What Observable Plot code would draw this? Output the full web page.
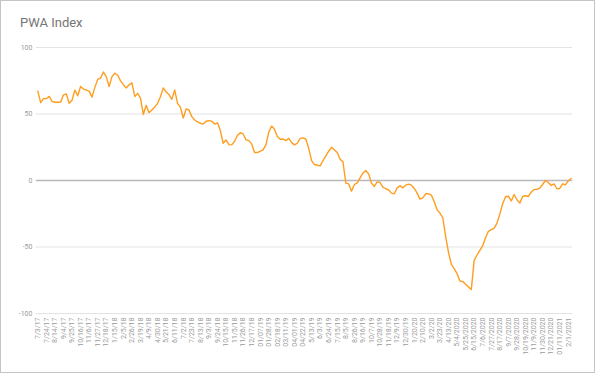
<!DOCTYPE html>
<html>
<head>
<meta charset="utf-8">
<script src="https://cdn.jsdelivr.net/npm/d3@7"></script>
<script src="https://cdn.jsdelivr.net/npm/@observablehq/plot@0.6"></script>
<style>
  html, body { margin: 0; padding: 0; background: #fff; }
  #frame { position: relative; width: 595px; height: 373px; box-sizing: border-box; border: 1px solid #c4c4c4; overflow: hidden; font-family: Roboto, sans-serif; }
  #title { position: absolute; left: 19px; top: 14px; font-size: 13px; color: #757575; }
  #chart { position: absolute; left: -1px; top: 33px; }
</style>
</head>
<body>
<div id="frame">
  <div id="title">PWA Index</div>
  <div id="chart"></div>
</div>
<script>
const title = "PWA Index";

// x tick labels (every 3rd weekly point)
const tickLabels = ["7/3/17","7/24/17","8/14/17","9/4/17","9/25/17","10/16/17","11/6/17","11/27/17","12/18/17","1/15/18",
"2/5/18","2/26/18","3/19/18","4/9/18","4/30/18","5/21/18","6/11/18","7/2/18","7/23/18","8/13/18",
"9/3/18","9/24/18","10/15/18","11/5/18","11/26/18","12/17/18","01/07/19","01/28/19","02/18/19","03/11/19",
"04/01/19","04/22/19","5/13/19","6/3/19","6/24/19","7/15/19","8/5/19","8/26/19","9/16/19","10/7/19",
"10/28/19","11/18/19","12/9/19","12/30/19","1/20/20","2/10/20","3/2/20","3/23/20","4/13/20","5/4/2020",
"5/25/2020","6/15/2020","7/6/2020","7/27/2020","8/17/2020","9/7/2020","9/28/2020","10/19/2020","11/9/2020","11/30/2020",
"12/21/2020","01/11/2021","2/1/2021"];

// weekly index values
const values = [
67.2, 58.5, 61.5, 61.5, 63.2, 59.5, 58.8, 58.8, 58.8, 64.4,
65, 58, 60.3, 67.9, 63.7, 70.7, 68.7, 68, 67.2, 62.7,
70, 76, 76.9, 81.5, 78.1, 70.7, 78.1, 80.6, 79.3, 74.9,
72, 69.6, 71.9, 73.4, 63.2, 65.5, 62, 49.6, 56.5, 51,
53, 55.3, 58, 63, 69.6, 66.5, 64.5, 61, 68, 58,
55, 47, 53.8, 53, 48, 45.5, 44.1, 43, 42.4, 44.5,
45, 44.6, 42.4, 43.4, 37.5, 28, 30.5, 27, 26.8, 29.5,
34, 35.9, 35, 30.5, 30, 27.5, 21, 21, 22, 23,
27, 36.5, 41, 38.4, 33, 31, 31.2, 30, 31.7, 28.5,
26.8, 28, 31.7, 32, 31, 24, 15, 12, 11.5, 11,
15, 18.5, 22, 25, 23, 21, 16, 14, -2, -2.5,
-8, -3, -1.8, 2, 5.5, 7.5, 5, -2, -4.5, -1,
-1.5, -5, -6.2, -7, -9.5, -10, -5.5, -4, -5.5, -3.5,
-2.7, -3.5, -6, -9.5, -14, -13, -10, -10, -11, -16,
-22, -24.5, -28, -42, -54, -63, -66.2, -70, -75.5, -76,
-78, -80, -82, -60, -56, -52.5, -49, -43, -38.2, -37,
-36, -32, -25.3, -17.5, -12.2, -11.8, -15.4, -10.5, -14.5, -17,
-12, -11.5, -12, -8.8, -6.7, -6.7, -5.7, -3, 0, -1.5,
-3.7, -2.5, -6.2, -6, -2.5, -3.3, -0.2, 1.5
];

const yTicks = [-100, -50, 50, 100];
const yLabels = [-100, -50, 0, 50, 100];
const tickIdx = tickLabels.map((_, k) => k * 3);
const data = values.map((v, i) => ({i, v}));

const chart = Plot.plot({
  width: 596,
  height: 340,
  marginTop: 13,
  marginBottom: 60,
  marginLeft: 36,
  marginRight: 22,
  style: { fontFamily: "Roboto, sans-serif", fontSize: "7px", color: "#9a9a9a", background: "transparent" },
  x: { type: "linear", domain: [-0.5, values.length - 0.5], axis: null },
  y: { domain: [-100, 100], axis: null },
  marks: [
    Plot.ruleY(yTicks, { stroke: "#e3e3e3", strokeWidth: 1 }),
    Plot.ruleY([0], { stroke: "#b9b9b9", strokeWidth: 1.6 }),
    Plot.lineY(data, { x: "i", y: "v", stroke: "#ff9d1e", strokeWidth: 1.4, curve: "linear" }),
    Plot.axisY({ ticks: yLabels, tickSize: 0, tickPadding: 4, fill: "#9a9a9a", label: null, tickFormat: d => String(d) }),
    Plot.axisX({ ticks: tickIdx, tickSize: 0, tickPadding: 4, tickRotate: -90, fill: "#9a9a9a", label: null,
                 tickFormat: i => tickLabels[Math.round(i / 3)] })
  ]
});
document.getElementById("chart").appendChild(chart);
</script>
</body>
</html>
